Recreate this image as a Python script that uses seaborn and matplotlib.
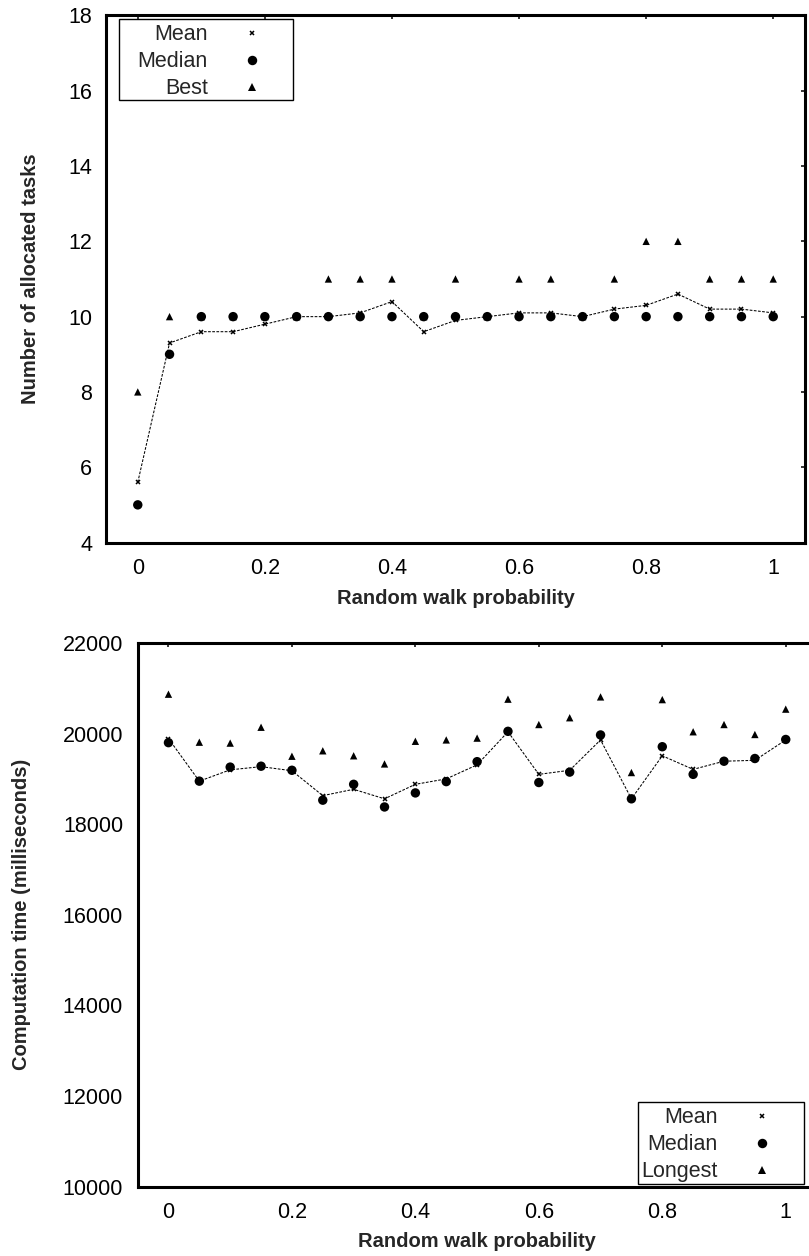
import matplotlib
matplotlib.use("Agg")
import matplotlib.pyplot as plt
import seaborn as sns
from matplotlib.lines import Line2D
from matplotlib.path import Path
from matplotlib.ticker import FuncFormatter

# ---------------- data ----------------
probability = [0.0, 0.05, 0.1, 0.15, 0.2, 0.25, 0.3, 0.35, 0.4, 0.45, 0.5,
               0.55, 0.6, 0.65, 0.7, 0.75, 0.8, 0.85, 0.9, 0.95, 1.0]

tasks_mean = [5.6, 9.3, 9.6, 9.6, 9.8, 10.0, 10.0, 10.1, 10.4, 9.6, 9.9,
              10.0, 10.1, 10.1, 10.0, 10.2, 10.3, 10.6, 10.2, 10.2, 10.1]
tasks_median = [5, 9, 10, 10, 10, 10, 10, 10, 10, 10, 10,
                10, 10, 10, 10, 10, 10, 10, 10, 10, 10]
tasks_best = [8, 10, 10, 10, 10, 10, 11, 11, 11, 10, 11,
              10, 11, 11, 10, 11, 12, 12, 11, 11, 11]

time_mean = [19890, 18950, 19200, 19270, 19180, 18630, 18770, 18560, 18880, 19000, 19310,
             20040, 19100, 19190, 19860, 18560, 19510, 19210, 19390, 19410, 19860]
time_median = [19800, 18950, 19260, 19280, 19190, 18530, 18880, 18380, 18690, 18940, 19380,
               20050, 18920, 19150, 19970, 18560, 19710, 19100, 19390, 19450, 19870]
time_longest = [20870, 19810, 19790, 20140, 19500, 19620, 19510, 19330, 19830, 19860, 19900,
                20760, 20200, 20350, 20810, 19140, 20750, 20040, 20200, 19980, 20540]

x_ticks = [0, 0.2, 0.4, 0.6, 0.8, 1.0]
tasks_yticks = [4, 6, 8, 10, 12, 14, 16, 18]
time_yticks = [10000, 12000, 14000, 16000, 18000, 20000, 22000]

top_legend_labels = ["Mean", "Median", "Best"]
bottom_legend_labels = ["Mean", "Median", "Longest"]

x_label = "Random walk probability"
top_ylabel = "Number of allocated tasks"
bottom_ylabel = "Computation time (milliseconds)"

# ---------------- style ----------------
sns.set_style("white")
plt.rcParams['font.family'] = ['Liberation Sans', 'DejaVu Sans']

fig = plt.figure(figsize=(8.09, 12.56), dpi=100)
ax1 = fig.add_axes([0.13103, 0.56807, 0.86403, 0.41959])
ax2 = fig.add_axes([0.17009, 0.05533, 0.83931, 0.43272])

dash = (0, (2.6, 1.4))


def draw(ax, mean, median, best):
    sns.lineplot(x=probability, y=mean, ax=ax, color="black", lw=0.75,
                 linestyle=dash, marker="x", markersize=3.5,
                 markeredgewidth=1.1, markeredgecolor="black",
                 sort=False, estimator=None, zorder=2)
    sns.scatterplot(x=probability, y=median, ax=ax, marker="o", s=46,
                    color="black", edgecolor="none", linewidth=0,
                    zorder=3, legend=False)
    sns.scatterplot(x=probability, y=best, ax=ax, marker="^", s=28,
                    color="black", edgecolor="none", linewidth=0,
                    zorder=4, legend=False)


def style(ax, ylim, yticks, ypad):
    ax.set_xlim(-0.05, 1.05)
    ax.set_ylim(*ylim)
    ax.set_xticks(x_ticks)
    ax.set_yticks(yticks)
    ax.xaxis.set_major_formatter(FuncFormatter(lambda v, p: "%g" % v))
    ax.yaxis.set_major_formatter(FuncFormatter(lambda v, p: "%g" % v))
    for s in ax.spines.values():
        s.set_visible(True)
        s.set_color("black")
        s.set_linewidth(2.2)
    ax.tick_params(axis="both", direction="in", length=3.2, width=1.1,
                   top=True, right=True, labelsize=15.5, colors="black")
    ax.tick_params(axis="x", pad=11.5)
    ax.tick_params(axis="y", pad=ypad)
    ax.grid(False)


def make_box(l, r, t, b):
    def box(x0, y0, width, height, mutation_size):
        x1 = x0 + width
        y1 = y0 + height
        verts = [(x0 - l, y0 - b), (x1 + r, y0 - b), (x1 + r, y1 + t),
                 (x0 - l, y1 + t), (x0 - l, y0 - b)]
        codes = [Path.MOVETO, Path.LINETO, Path.LINETO, Path.LINETO,
                 Path.CLOSEPOLY]
        return Path(verts, codes)
    return box


def legend(ax, labels, anchor, pads):
    handles = [
        Line2D([], [], ls="none", marker="x", color="black", ms=3.5, mew=1.1),
        Line2D([], [], ls="none", marker="o", color="black", ms=6.8, mew=0),
        Line2D([], [], ls="none", marker="^", color="black", ms=5.3, mew=0),
    ]
    leg = ax.legend(handles, labels, loc="upper right", bbox_to_anchor=anchor,
                    markerfirst=False, frameon=True, fancybox=False,
                    borderpad=0, borderaxespad=0, handlelength=2.0,
                    handletextpad=1.05, labelspacing=0.28, fontsize=15.5,
                    edgecolor="black", framealpha=1)
    leg.get_frame().set_linewidth(1.0)
    leg.legendPatch.set_boxstyle(make_box(*pads))
    return leg


draw(ax1, tasks_mean, tasks_median, tasks_best)
style(ax1, (4, 18), tasks_yticks, 10)
ax1.set_xlabel(x_label, fontsize=14.5, fontweight="bold", va="top")
ax1.set_ylabel(top_ylabel, fontsize=14.5, fontweight="bold", va="center")
ax1.xaxis.set_label_coords(0.5, -0.0873)
ax1.yaxis.set_label_coords(-0.1080, 0.5)
legend(ax1, top_legend_labels, (0.2396, 0.9833), (18.5, 19.5, 5.3, 0.5))

draw(ax2, time_mean, time_median, time_longest)
style(ax2, (10000, 22000), time_yticks, 10.5)
ax2.set_xlabel(x_label, fontsize=14.5, fontweight="bold", va="top")
ax2.set_ylabel(bottom_ylabel, fontsize=14.5, fontweight="bold", va="center")
ax2.xaxis.set_label_coords(0.5, -0.0829)
ax2.yaxis.set_label_coords(-0.1706, 0.5)
legend(ax2, bottom_legend_labels, (0.9512, 0.1457), (3.5, 20.5, 5.3, 1.2))

fig.savefig("out.png", dpi=100, facecolor="white")
